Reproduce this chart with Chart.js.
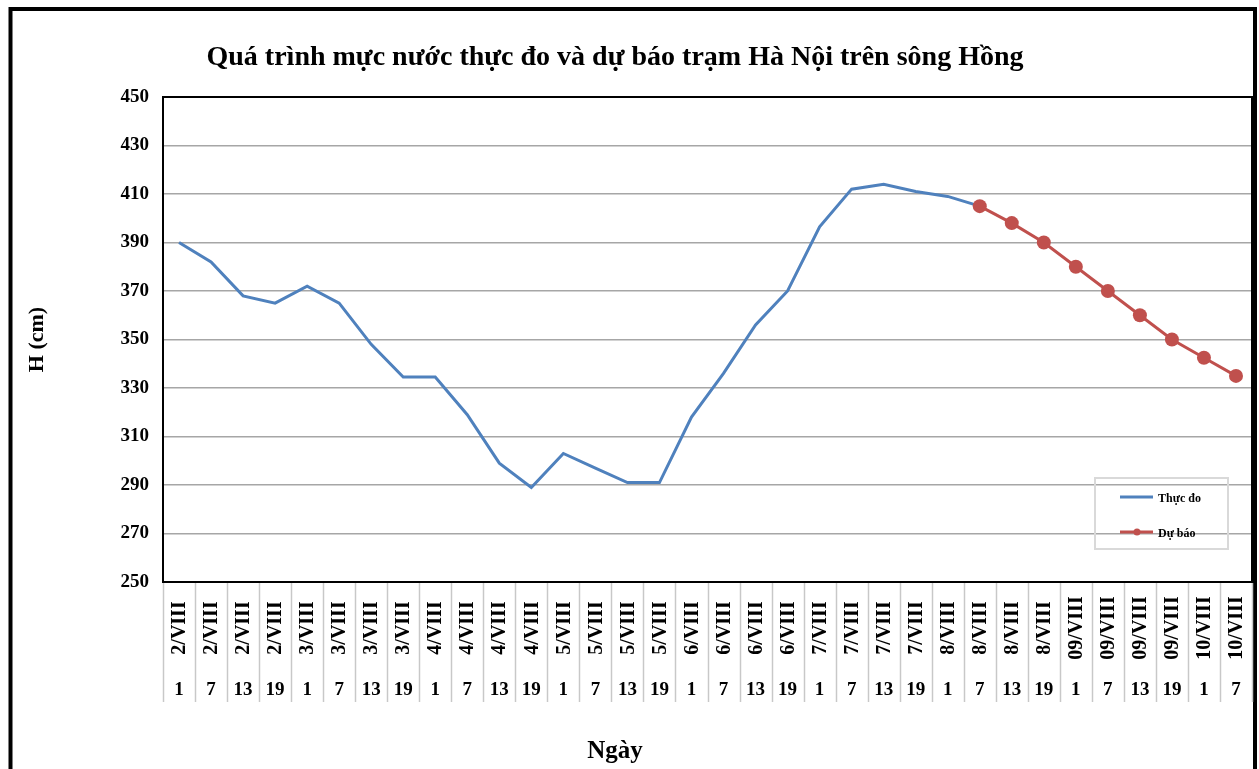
<!DOCTYPE html>
<html>
<head>
<meta charset="utf-8">
<script src="https://cdn.jsdelivr.net/npm/chart.js@4.4.0/dist/chart.umd.min.js"></script>
<style>
  body { margin: 0; background: #fff; }
  #wrap { width: 1259px; height: 769px; }
</style>
</head>
<body>
<div id="wrap"><canvas id="chart" width="1259" height="769"></canvas></div>
<script>
// --- data ---
const TITLE = 'Quá trình mực nước thực đo và dự báo trạm Hà Nội trên sông Hồng';
const dayLabels = [
    '2/VIII', '2/VIII', '2/VIII', '2/VIII',
    '3/VIII', '3/VIII', '3/VIII', '3/VIII',
    '4/VIII', '4/VIII', '4/VIII', '4/VIII',
    '5/VIII', '5/VIII', '5/VIII', '5/VIII',
    '6/VIII', '6/VIII', '6/VIII', '6/VIII',
    '7/VIII', '7/VIII', '7/VIII', '7/VIII',
    '8/VIII', '8/VIII', '8/VIII', '8/VIII',
    '09/VIII', '09/VIII', '09/VIII', '09/VIII',
    '10/VIII', '10/VIII'
];
const hourLabels = [
    1, 7, 13, 19, 1, 7, 13, 19, 1, 7, 13, 19, 1, 7, 13, 19, 1, 7, 13, 19,
    1, 7, 13, 19, 1, 7, 13, 19, 1, 7, 13, 19, 1, 7
];
const observed = [
    390, 382, 368, 365, 372, 365, 348, 334.5, 334.5, 319, 299, 289,
    303, 297, 291, 291, 318, 336, 356, 370, 396.5, 412, 414, 411, 409, 405,
    null, null, null, null, null, null, null, null
];
const forecast = [
    null, null, null, null, null, null, null, null, null, null, null, null,
    null, null, null, null, null, null, null, null, null, null, null, null, null,
    405, 398, 390, 380, 370, 360, 350, 342.5, 335
];
const Y_MIN = 250, Y_MAX = 450, Y_STEP = 20;

const BLUE = '#4f81bd';
const RED = '#c0504d';
const SERIF = '"Liberation Serif", "Times New Roman", serif';

// draws the frame, title, two-row category labels and the legend box
const decorations = {
    id: 'decorations',
    afterDraw(chart) {
        const ctx = chart.ctx;
        const area = chart.chartArea;
        const x = chart.scales.x;
        ctx.save();

        // outer border
        ctx.strokeStyle = '#000';
        ctx.lineWidth = 4;
        ctx.strokeRect(10.5, 9, 1244.5, 800);

        // plot frame
        ctx.lineWidth = 2;
        ctx.strokeRect(area.left, area.top, area.right - area.left, area.bottom - area.top);

        // title
        ctx.fillStyle = '#000';
        ctx.font = 'bold 28px ' + SERIF;
        ctx.textAlign = 'center';
        ctx.textBaseline = 'middle';
        ctx.fillText(TITLE, 615, 58);

        // category separators below the plot
        ctx.strokeStyle = '#c8c8c8';
        ctx.lineWidth = 1.5;
        const half = (x.getPixelForValue(1) - x.getPixelForValue(0)) / 2;
        for (let i = 0; i <= dayLabels.length; i++) {
            const px = Math.round(x.getPixelForValue(i) - half) + 0.5;
            ctx.beginPath();
            ctx.moveTo(px, area.bottom + 1);
            ctx.lineTo(px, 702);
            ctx.stroke();
        }

        // day labels (rotated) and hour labels
        dayLabels.forEach((d, i) => {
            const px = x.getPixelForValue(i);
            ctx.save();
            ctx.translate(px, 628);
            ctx.rotate(-Math.PI / 2);
            ctx.font = 'bold 20px ' + SERIF;
            ctx.fillText(d, 0, 1);
            ctx.restore();
            ctx.font = 'bold 19px ' + SERIF;
            ctx.fillText(String(hourLabels[i]), px, 690);
        });

        // x axis title
        ctx.font = 'bold 25px ' + SERIF;
        ctx.fillText('Ngày', 615, 752);

        // legend box
        ctx.strokeStyle = '#d9d9d9';
        ctx.lineWidth = 2;
        ctx.strokeRect(1095, 478, 133, 71);
        ctx.lineWidth = 3;
        ctx.strokeStyle = BLUE;
        ctx.beginPath(); ctx.moveTo(1120, 497); ctx.lineTo(1153, 497); ctx.stroke();
        ctx.strokeStyle = RED;
        ctx.beginPath(); ctx.moveTo(1120, 532); ctx.lineTo(1153, 532); ctx.stroke();
        ctx.fillStyle = RED;
        ctx.beginPath(); ctx.arc(1137, 532, 3.5, 0, Math.PI * 2); ctx.fill();
        ctx.fillStyle = '#000';
        ctx.font = 'bold 12px ' + SERIF;
        ctx.textAlign = 'left';
        ctx.fillText('Thực đo', 1158, 499);
        ctx.fillText('Dự báo', 1158, 534);

        ctx.restore();
    }
};

const chart = new Chart(document.getElementById('chart'), {
    type: 'line',
    data: {
        labels: hourLabels.map(String),
        datasets: [
            { label: 'Dự báo', data: forecast, borderColor: RED, backgroundColor: RED,
              borderWidth: 3, pointRadius: 7, pointHoverRadius: 7, pointBorderWidth: 0, tension: 0 },
            { label: 'Thực đo', data: observed, borderColor: BLUE, backgroundColor: BLUE,
              borderWidth: 3, pointRadius: 0, tension: 0 }
        ]
    },
    options: {
        responsive: false,
        animation: false,
        layout: { padding: { left: 14, right: 7, top: 97, bottom: 0 } },
        plugins: {
            legend: { display: false },
            title: { display: false },
            tooltip: { enabled: false }
        },
        scales: {
            x: {
                offset: true,
                ticks: { display: false },
                grid: { display: false },
                border: { display: false },
                afterFit(scale) { scale.height = 187; }
            },
            y: {
                min: Y_MIN,
                max: Y_MAX,
                ticks: {
                    stepSize: Y_STEP,
                    color: '#000',
                    font: { family: SERIF, size: 19, weight: 'bold' },
                    padding: 14
                },
                grid: { color: '#a6a6a6', lineWidth: 1.5, drawTicks: false },
                border: { display: false },
                title: {
                    display: true,
                    text: 'H (cm)',
                    color: '#000',
                    font: { family: SERIF, size: 22, weight: 'bold' },
                    padding: { top: 10, bottom: 0 }
                },
                afterFit(scale) { scale.width = 149; }
            }
        }
    },
    plugins: [decorations]
});
</script>
</body>
</html>
